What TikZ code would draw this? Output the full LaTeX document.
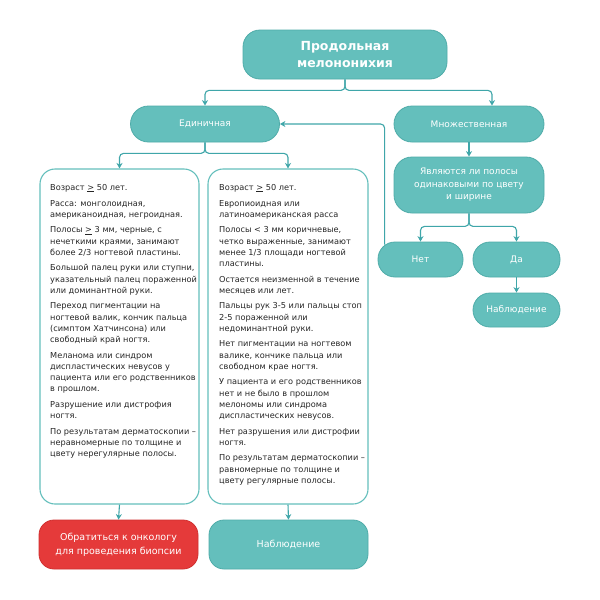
\documentclass[tikz,border=0pt]{standalone}
\usepackage{fontspec}
\setmainfont{DejaVu Sans}
\usetikzlibrary{arrows.meta}
\definecolor{tealfill}{HTML}{64BFBC}
\definecolor{tealline}{HTML}{4FACA9}
\definecolor{arrcol}{HTML}{3FA6A9}
\definecolor{redfill}{HTML}{E53A3A}
\definecolor{redline}{HTML}{D03030}
\definecolor{txtcol}{HTML}{262626}
\newcommand{\ulgt}{\underline{>}}
\begin{document}
\begin{tikzpicture}[x=1pt,y=-1pt,
  tealnode/.style={draw=tealline, fill=tealfill, line width=0.8pt, text=white, align=center, inner sep=0pt, font=\fontsize{9}{12.5}\selectfont},
  rednode/.style={draw=redline, fill=redfill, line width=0.8pt, text=white, align=center, inner sep=0pt, font=\fontsize{9.5}{14}\selectfont},
  framebox/.style={draw=tealfill, fill=white, line width=1.1pt, rounded corners=15pt, inner sep=0pt, minimum height=335pt},
  bodytext/.style={anchor=north west, inner sep=0pt, align=left, text=txtcol, font=\fontsize{8.2}{11.1}\selectfont},
  conn/.style={draw=arrcol, line width=1.1pt, rounded corners=4pt, -{Stealth[length=5.5pt,width=6pt]}},
]
\useasboundingbox[fill=white] (0,0) rectangle (600,600);

\node[tealnode, rounded corners=17pt, minimum width=204pt, minimum height=49pt, font=\bfseries\fontsize{12.5}{17}\selectfont] (top) at (345,54.5) {Продольная\\мелононихия};
\node[tealnode, rounded corners=18pt, minimum width=149pt, minimum height=36pt] (edin) at (205,124) {Единичная};
\node[tealnode, rounded corners=18pt, minimum width=150pt, minimum height=36pt] (mnozh) at (469,124) {Множественная};
\node[tealnode, rounded corners=18pt, minimum width=150pt, minimum height=56pt] (q) at (469,185) {Являются ли полосы\\одинаковыми по цвету\\и ширине};
\node[tealnode, rounded corners=17pt, minimum width=85pt, minimum height=35pt] (net) at (420.5,259.5) {Нет};
\node[tealnode, rounded corners=17pt, minimum width=87pt, minimum height=35pt] (da) at (516.5,259.5) {Да};
\node[tealnode, rounded corners=17pt, minimum width=87pt, minimum height=34pt] (nabl2) at (516.5,310) {Наблюдение};

\node[framebox, minimum width=159pt] (lbox) at (119.5,336.5) {};
\node[framebox, minimum width=160pt] (rbox) at (288,336.5) {};

\node[bodytext] (ltext) at (50,184) {Возраст \ulgt{} 50 лет.\\[4.7pt]
Расса: монголоидная,\\американоидная, негроидная.\\[4.7pt]
Полосы \ulgt{} 3 мм, черные, с\\нечеткими краями, занимают\\более 2/3 ногтевой пластины.\\[4.7pt]
Большой палец руки или ступни,\\указательный палец пораженной\\или доминантной руки.\\[4.7pt]
Переход пигментации на\\ногтевой валик, кончик пальца\\(симптом Хатчинсона) или\\свободный край ногтя.\\[4.7pt]
Меланома или синдром\\диспластических невусов у\\пациента или его родственников\\в прошлом.\\[4.7pt]
Разрушение или дистрофия\\ногтя.\\[4.7pt]
По результатам дерматоскопии –\\неравномерные по толщине и\\цвету нерегулярные полосы.};

\node[bodytext] (rtext) at (219,184) {Возраст \ulgt{} 50 лет.\\[4.7pt]
Европиоидная или\\латиноамериканская расса\\[4.7pt]
Полосы < 3 мм коричневые,\\четко выраженные, занимают\\менее 1/3 площади ногтевой\\пластины.\\[4.7pt]
Остается неизменной в течение\\месяцев или лет.\\[4.7pt]
Пальцы рук 3-5 или пальцы стоп\\2-5 пораженной или\\недоминантной руки.\\[4.7pt]
Нет пигментации на ногтевом\\валике, кончике пальца или\\свободном крае ногтя.\\[4.7pt]
У пациента и его родственников\\нет и не было в прошлом\\мелономы или синдрома\\диспластических невусов.\\[4.7pt]
Нет разрушения или дистрофии\\ногтя.\\[4.7pt]
По результатам дерматоскопии –\\равномерные по толщине и\\цвету регулярные полосы.};

\node[rednode, rounded corners=15pt, minimum width=159pt, minimum height=49pt] (onko) at (118.5,544.5) {Обратиться к онкологу\\для проведения биопсии};
\node[tealnode, rounded corners=15pt, minimum width=159pt, minimum height=49pt, font=\fontsize{9.5}{14}\selectfont] (nabl1) at (288.5,544.5) {Наблюдение};

\draw[conn] (top.south) -- ++(0,11) -| (edin.north);
\draw[conn] (top.south) -- ++(0,11) -| ([xshift=23pt]mnozh.north);
\draw[conn] (edin.south) -- ++(0,11) -| (lbox.north);
\draw[conn] (edin.south) -- ++(0,11) -| (rbox.north);
\draw[conn] (mnozh.south) -- (q.north);
\draw[conn] (q.south) -- ++(0,13) -| (net.north);
\draw[conn] (q.south) -- ++(0,13) -| (da.north);
\draw[conn] (da.south) -- (nabl2.north);
\draw[conn] ([xshift=7pt,yshift=-3pt]net.north west) |- (edin.east);
\draw[conn] (lbox.south) -- (onko.north);
\draw[conn] (rbox.south) -- (nabl1.north);
\end{tikzpicture}
\end{document}
